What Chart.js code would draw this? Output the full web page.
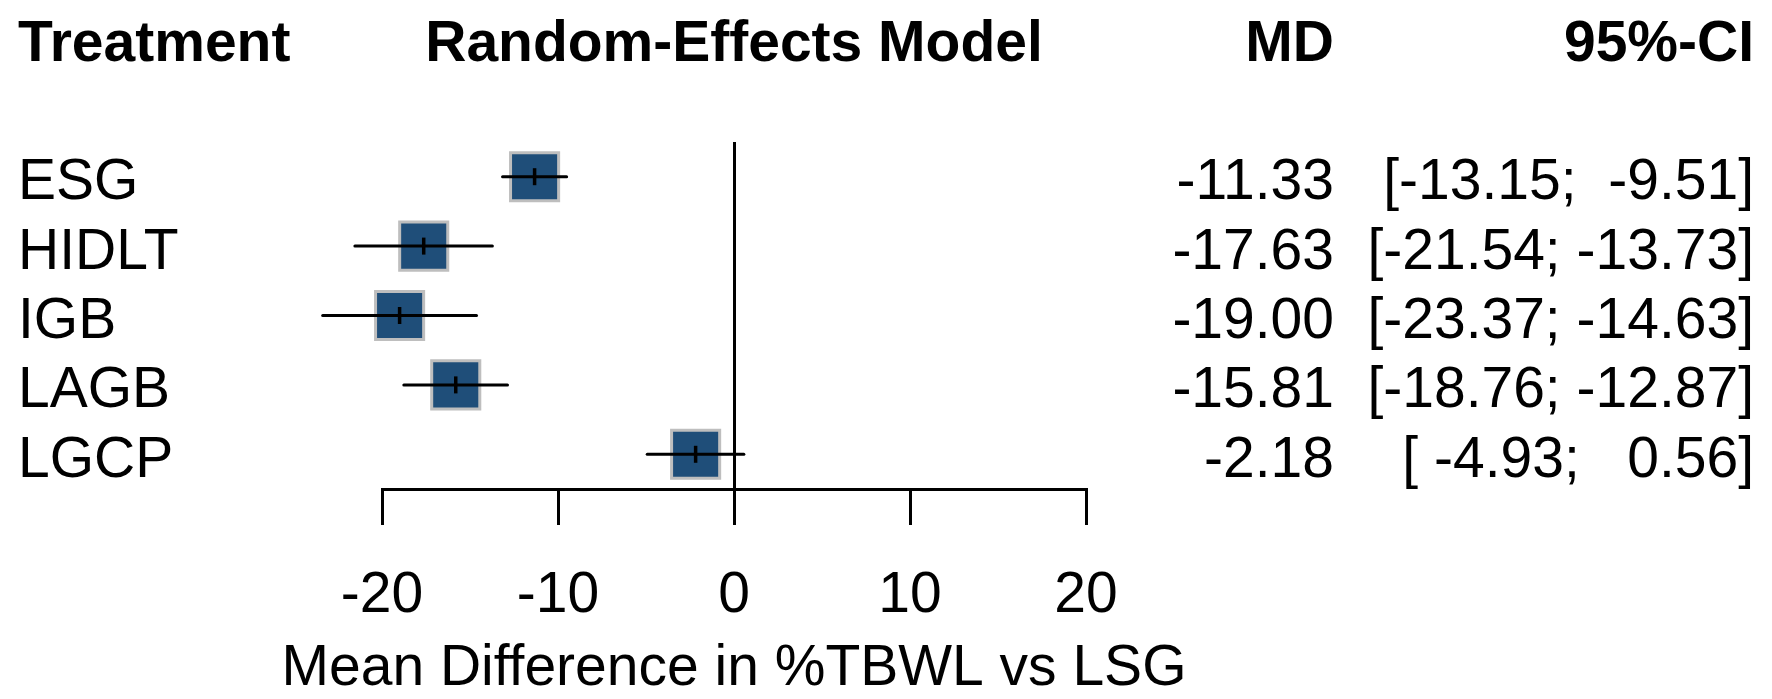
<!DOCTYPE html>
<html>
<head>
<meta charset="utf-8">
<script src="https://cdn.jsdelivr.net/npm/chart.js@4.4.1/dist/chart.umd.min.js"></script>
<style>
  html, body { margin: 0; padding: 0; background: #ffffff; }
  #wrap { width: 1772px; height: 699px; position: relative; }
</style>
</head>
<body>
<div id="wrap"><canvas id="c" width="1772" height="699"></canvas></div>
<script>
// ---- data ----
const treatments = ['ESG', 'HIDLT', 'IGB', 'LAGB', 'LGCP'];
const md = [-11.33, -17.63, -19.00, -15.81, -2.18];
const ciLow = [-13.15, -21.54, -23.37, -18.76, -4.93];
const ciHigh = [-9.51, -13.73, -14.63, -12.87, 0.56];
const mdLabels = ['-11.33', '-17.63', '-19.00', '-15.81', '-2.18'];
const ciLabels = ['[-13.15;  -9.51]', '[-21.54; -13.73]', '[-23.37; -14.63]', '[-18.76; -12.87]', '[ -4.93;   0.56]'];
const xTicks = [-20, -10, 0, 10, 20];
const headers = { treatment: 'Treatment', model: 'Random-Effects Model', md: 'MD', ci: '95%-CI' };
const xTitle = 'Mean Difference in %TBWL vs LSG';

// ---- styles ----
const FONT = "'Liberation Sans', Arial, sans-serif";
const FS = 57;
const BOX_FILL = '#1f4e79';
const BOX_BORDER = '#bebebe';

const datasets = [];
// CI lines (drawn on top of squares)
treatments.forEach((t, i) => {
  datasets.push({
    type: 'line',
    label: t + ' CI',
    data: [{ x: ciLow[i], y: i }, { x: ciHigh[i], y: i }],
    borderColor: '#000',
    borderWidth: 3,
    borderCapStyle: 'round',
    pointRadius: 0,
    clip: false,
    order: 1
  });
});
// centre tick marks
datasets.push({
  type: 'scatter',
  label: 'MD mark',
  data: md.map((v, i) => ({ x: v, y: i })),
  pointStyle: 'line',
  rotation: 90,
  pointRadius: 8.5,
  borderColor: '#000',
  borderWidth: 3.5,
  clip: false,
  order: 0
});
// squares
datasets.push({
  type: 'scatter',
  label: 'MD',
  data: md.map((v, i) => ({ x: v, y: i })),
  pointStyle: 'rect',
  pointRadius: 34,
  backgroundColor: BOX_FILL,
  borderColor: BOX_BORDER,
  borderWidth: 3,
  clip: false,
  order: 2
});

const textPlugin = {
  id: 'forestText',
  afterDraw(chart) {
    const ctx = chart.ctx;
    const xs = chart.scales.x;
    const ys = chart.scales.y;
    ctx.save();
    ctx.fillStyle = '#000';
    ctx.textBaseline = 'alphabetic';
    // headers
    ctx.font = 'bold ' + FS + 'px ' + FONT;
    ctx.textAlign = 'left';
    ctx.fillText(headers.treatment, 18, 61);
    ctx.textAlign = 'center';
    ctx.fillText(headers.model, xs.getPixelForValue(0), 61);
    ctx.textAlign = 'right';
    ctx.fillText(headers.md, 1334, 61);
    ctx.fillText(headers.ci, 1754, 61);
    // rows
    ctx.font = FS + 'px ' + FONT;
    treatments.forEach((t, i) => {
      const y = ys.getPixelForValue(i) + 22.5;
      ctx.textAlign = 'left';
      ctx.fillText(t, 18, y);
      ctx.textAlign = 'right';
      ctx.fillText(mdLabels[i], 1334, y);
      ctx.fillText(ciLabels[i], 1754, y);
    });
    // x-axis title (centred on the axis)
    ctx.textAlign = 'center';
    ctx.fillText(xTitle, (xs.left + xs.right) / 2, 685);
    ctx.restore();
  }
};

new Chart(document.getElementById('c'), {
  data: { datasets },
  options: {
    responsive: false,
    animation: false,
    devicePixelRatio: 1,
    layout: { padding: { left: 382, right: 686, top: 142, bottom: 0 } },
    plugins: { legend: { display: false }, tooltip: { enabled: false } },
    scales: {
      x: {
        type: 'linear',
        position: 'bottom',
        min: -20,
        max: 20,
        afterBuildTicks(scale) { scale.ticks = xTicks.map(v => ({ value: v })); },
        afterFit(scale) { scale.height = 210; },
        border: { display: true, color: '#000', width: 3 },
        grid: {
          drawOnChartArea: true,
          drawTicks: true,
          tickLength: 36,
          tickColor: '#000',
          tickWidth: 3,
          lineWidth: 3,
          color: (c) => (c.tick && c.tick.value === 0 ? '#000' : 'rgba(0,0,0,0)')
        },
        ticks: {
          color: '#000',
          padding: 37,
          font: { family: FONT, size: FS },
          maxRotation: 0,
          autoSkip: false,
          callback: (v) => String(v)
        },
        title: { display: false }
      },
      y: {
        type: 'linear',
        display: false,
        min: -0.5,
        max: 4.5,
        reverse: true
      }
    }
  },
  plugins: [textPlugin]
});
</script>
</body>
</html>
